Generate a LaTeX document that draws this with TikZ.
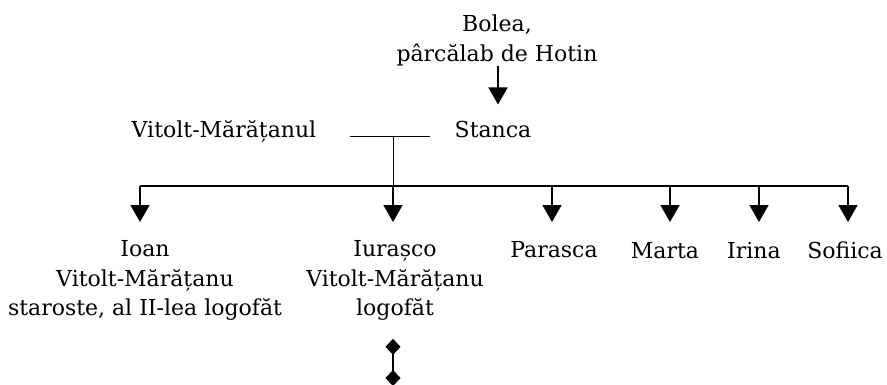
\documentclass[tikz,border=0pt]{standalone}
\usepackage{fontspec}
\setmainfont{DejaVu Serif}
\usetikzlibrary{arrows.meta}

\begin{document}
\begin{tikzpicture}[x=1pt, y=-1pt,
    person/.style={inner sep=0pt, anchor=base, font=\fontsize{22}{29.5}\selectfont},
    family/.style={person, anchor=north, align=center},
    arrow/.style={-{Triangle[width=19pt,length=17pt]}, line width=1.8pt},
    bar/.style={line width=1.3pt},
    wed/.style={line width=0.9pt},
    lineage/.style={{Diamond[width=15pt,length=16pt]}-{Diamond[width=15pt,length=16pt]}, line width=1.8pt}
]
\useasboundingbox (0,0) rectangle (887,384);

% parents
\node[family] (bolea) at (497,15) {Bolea,\\pârcălab de Hotin};
\node[person] (vitolt) at (224,137) {Vitolt-Mărățanul};
\node[person] (stanca) at (493,137) {Stanca};

\draw[arrow] (bolea.south -| 498,0) -- (498,0 |- stanca.north) [shorten >=16pt];

% marriage and branching bar
\coordinate (wedL) at (350,136);
\coordinate (wedR) at (430,136);
\coordinate (wedM) at (393,136);
\coordinate (barL) at (140,186);
\coordinate (barR) at (848,186);
\draw[wed] (wedL) -- (wedR);
\draw[wed] (wedM) -- (wedM |- barL);
\draw[bar] (barL) -- (barR);

% children
\node[family] (ioan) at (145,240.5) {Ioan\\Vitolt-Mărățanu\\staroste, al II-lea logofăt};
\node[family] (iurasco) at (395,240.5) {Iurașco\\Vitolt-Mărățanu\\logofăt};
\node[person] (parasca) at (554,257) {Parasca};
\node[person] (marta) at (665,258) {Marta};
\node[person] (irina) at (754,258) {Irina};
\node[person] (sofiica) at (845,258) {Sofiica};

\coordinate (c1) at (140,186);
\coordinate (c2) at (393,186);
\coordinate (c3) at (552,186);
\coordinate (c4) at (670,186);
\coordinate (c5) at (759,186);
\coordinate (c6) at (848,186);

\draw[arrow] (c1) -- (c1 |- 0,222);
\draw[arrow] (c2) -- (c2 |- 0,222);
\draw[arrow] (c3) -- (c3 |- 0,222);
\draw[arrow] (c4) -- (c4 |- 0,222);
\draw[arrow] (c5) -- (c5 |- 0,222);
\draw[arrow] (c6) -- (c6 |- 0,222);

% descent of Iurasco
\coordinate (cut) at (393,386);
\draw[lineage] (iurasco.south -| cut) -- (cut) [shorten <=18pt];
\end{tikzpicture}
\end{document}
